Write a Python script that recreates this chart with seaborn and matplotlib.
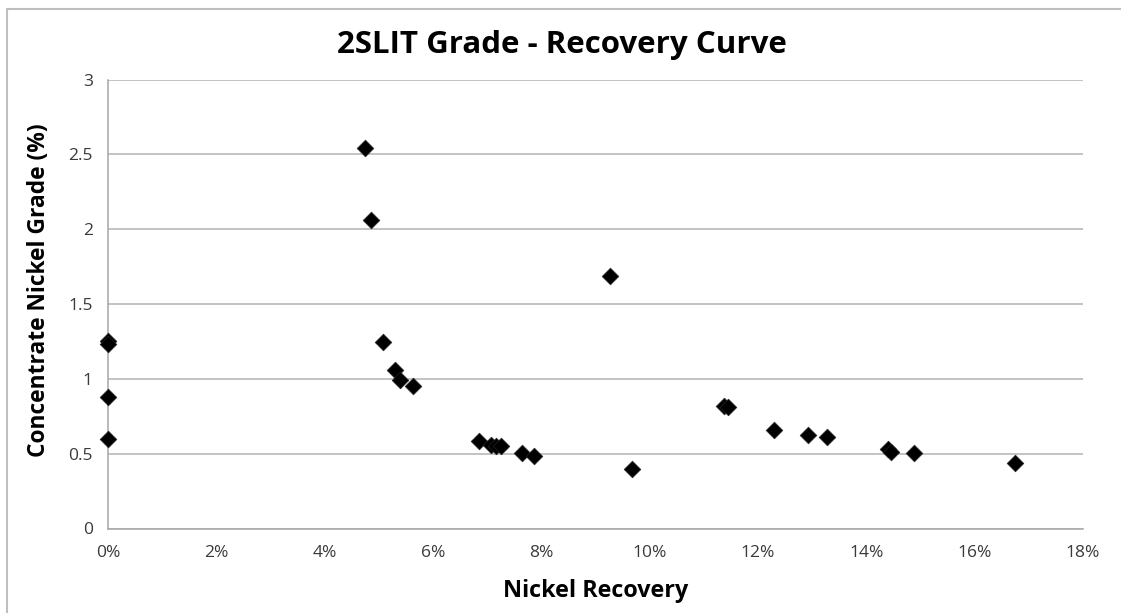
import matplotlib
matplotlib.use("Agg")
import matplotlib.pyplot as plt
import seaborn as sns
import pandas as pd
from matplotlib.ticker import PercentFormatter, MultipleLocator
from matplotlib.patches import Rectangle

# Data (recovery as fraction, grade in %)
recovery = [0.0, 0.0, 0.0, 0.0, 0.0475, 0.0486, 0.0508, 0.0530, 0.0540, 0.0563,
            0.0684, 0.0708, 0.0717, 0.0726, 0.0764, 0.0787, 0.0927, 0.0967,
            0.1138, 0.1144, 0.1229, 0.1292, 0.1327, 0.1440, 0.1445, 0.1488, 0.1675]
grade = [1.25, 1.23, 0.877, 0.60, 2.54, 2.06, 1.245, 1.062, 0.99, 0.949,
         0.582, 0.555, 0.553, 0.553, 0.504, 0.487, 1.69, 0.399,
         0.82, 0.81, 0.659, 0.624, 0.61, 0.532, 0.514, 0.503, 0.44]
title = "2SLIT Grade - Recovery Curve"
xlabel = "Nickel Recovery"
ylabel = "Concentrate Nickel Grade (%)"

df = pd.DataFrame({"recovery": recovery, "grade": grade})

sns.set_style("white")
plt.rcParams['font.family'] = ['Open Sans', 'DejaVu Sans']

W, H = 1121, 613
fig = plt.figure(figsize=(W / 100, H / 100), dpi=100)
ax = fig.add_axes([108 / W, (H - 528.5) / H, (1083 - 108) / W, (528.5 - 79.5) / H])

sns.scatterplot(data=df, x="recovery", y="grade", ax=ax, marker="D", s=72,
                color="black", edgecolor="#222222", linewidth=0.5, zorder=3,
                clip_on=False)

ax.set_xlim(0, 0.18)
ax.set_ylim(0, 3)
ax.xaxis.set_major_locator(MultipleLocator(0.02))
ax.xaxis.set_major_formatter(PercentFormatter(xmax=1, decimals=0))
ax.yaxis.set_major_locator(MultipleLocator(0.5))
ax.yaxis.set_major_formatter(plt.FuncFormatter(lambda v, p: f"{v:g}"))

ax.grid(axis="y", color="#b3b3b3", linewidth=1.1)
ax.grid(axis="x", visible=False)
ax.set_axisbelow(True)
for s in ["top", "right"]:
    ax.spines[s].set_visible(False)
for s in ["left", "bottom"]:
    ax.spines[s].set_color("#a6a6a6")
    ax.spines[s].set_linewidth(1.1)

ax.tick_params(axis="both", which="major", direction="out", length=6, width=1.1,
               color="#a6a6a6", labelsize=12.5, labelcolor="#3a3a3a")
ax.tick_params(axis="x", pad=6)
ax.tick_params(axis="y", pad=5)

ax.set_xlabel(xlabel, fontsize=16.8, fontweight="bold", labelpad=13, color="black")
ax.set_ylabel(ylabel, fontsize=16.4, fontweight="bold", labelpad=14, color="black")
ax.yaxis.set_label_coords(-0.058, 0.53)
fig.text(562 / W, 1 - 45 / H, title, ha="center", va="center",
         fontsize=22.5, fontweight="bold", color="black")

# outer chart border
fig.patches.append(Rectangle((7 / W, -0.1), 1.2, 1 - 9 / H + 0.1,
                             transform=fig.transFigure, fill=False,
                             edgecolor="#bfbfbf", linewidth=1.5))

fig.savefig("out.png", dpi=100)
